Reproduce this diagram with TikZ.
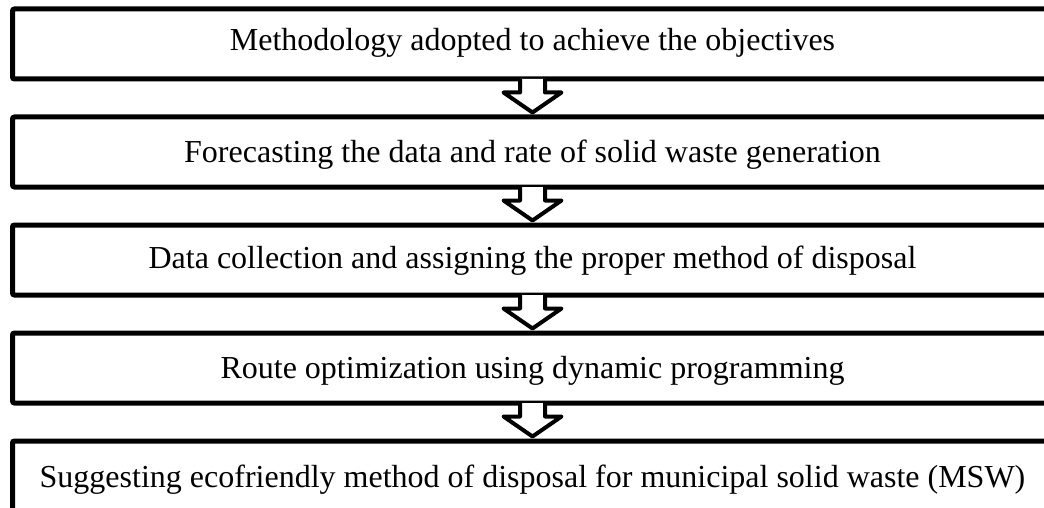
\documentclass[tikz,border=0pt]{standalone}
\usepackage{fontspec}
\setmainfont{Liberation Serif}
\usetikzlibrary{calc}
\tikzset{
  stepbox/.style={draw=black, line width=5pt, rounded corners=2pt, minimum width=1040pt, minimum height=70pt, inner sep=0pt},
  steptext/.style={anchor=base, inner sep=0pt, font=\fontsize{32}{38}\selectfont},
  flowarrow/.style={draw=black, line width=4pt, line join=round},
}
\newcommand{\blockarrow}[2]{%
  \fill[white] ($(#1.south)+(-12.5,-2.5)$) -- ($(#1.south)+(-12.5,11)$) -- ($(#1.south)+(-29,11)$) -- ($(#2.north)+(0,-2)$) -- ($(#1.south)+(29,11)$) -- ($(#1.south)+(12.5,11)$) -- ($(#1.south)+(12.5,-2.5)$) -- cycle;
  \draw[flowarrow] ($(#1.south)+(-12.5,-2.5)$) -- ($(#1.south)+(-12.5,11)$) -- ($(#1.south)+(-29,11)$) -- ($(#2.north)+(0,-2)$) -- ($(#1.south)+(29,11)$) -- ($(#1.south)+(12.5,11)$) -- ($(#1.south)+(12.5,-2.5)$);
}
\begin{document}
\begin{tikzpicture}[x=1pt, y=-1pt]
\useasboundingbox (0,0) rectangle (1044,508);
\clip (0,0) rectangle (1044,508);
\node[stepbox] (b1) at (532.5,44) {};
\node[stepbox] (b2) at (532.5,152) {};
\node[stepbox] (b3) at (532.5,260) {};
\node[stepbox] (b4) at (532.5,368) {};
\node[stepbox] (b5) at (532.5,476) {};
\node[steptext] (t1) at ($(b1.center)+(0,7)$) {Methodology adopted to achieve the objectives};
\node[steptext] (t2) at ($(b2.center)+(0,10)$) {Forecasting the data and rate of solid waste generation};
\node[steptext] (t3) at ($(b3.center)+(0,8)$) {Data collection and assigning the proper method of disposal};
\node[steptext] (t4) at ($(b4.center)+(0,10)$) {Route optimization using dynamic programming};
\node[steptext] (t5) at ($(b5.center)+(0,11)$) {Suggesting ecofriendly method of disposal for municipal solid waste (MSW)};
\blockarrow{b1}{b2}
\blockarrow{b2}{b3}
\blockarrow{b3}{b4}
\blockarrow{b4}{b5}
\end{tikzpicture}
\end{document}
